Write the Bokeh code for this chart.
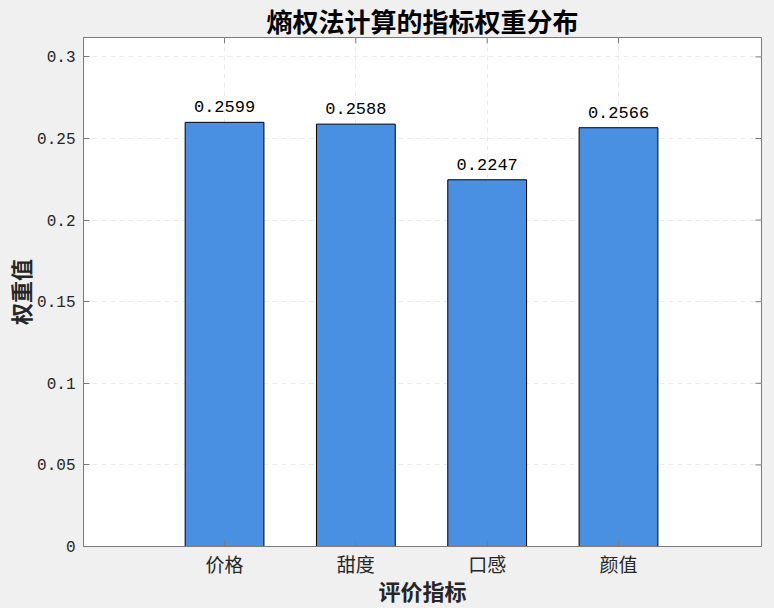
import math
from bokeh.plotting import figure
from bokeh.models import ColumnDataSource, FixedTicker, Range1d
from bokeh.core.properties import value
from bokeh.embed import file_html
from bokeh.resources import INLINE
from jinja2 import Template

categories = ["价格", "甜度", "口感", "颜值"]
weights = [0.2599, 0.2588, 0.2247, 0.2566]
value_labels = ["0.2599", "0.2588", "0.2247", "0.2566"]
y_ticks = [0, 0.05, 0.1, 0.15, 0.2, 0.25, 0.3]
y_tick_labels = ["0", "0.05", "0.1", "0.15", "0.2", "0.25", "0.3"]
title_text = "熵权法计算的指标权重分布"
x_label = "评价指标"
y_label = "权重值"

xs = [i + 1 for i in range(len(categories))]
X0, X1 = -0.074, 5.089
Y0, Y1 = 0, max(weights) * 1.2
src = ColumnDataSource(dict(x=xs, top=weights, lab=value_labels))

CJK = "Noto Sans CJK SC"
MONO = "Liberation Mono"
AX = "#7a7a7a"
TXT = "#262626"

p = figure(width=774, height=608, output_backend="svg", toolbar_location=None,
           x_range=Range1d(X0, X1), y_range=Range1d(Y0, Y1),
           background_fill_color="white", border_fill_color="#f0f0f0",
           min_border_left=83, min_border_right=13, min_border_top=37, min_border_bottom=62)

p.vbar(x="x", top="top", width=0.6, source=src, fill_color="#4A90E2", line_color="black", line_width=1)
p.text(x="x", y="top", text="lab", source=src, text_align="center", text_baseline="bottom",
       y_offset=-10, text_font=value(MONO), text_font_size="17px", text_color="black")

# inside ticks on the right and top edges (box)
p.ray(x=[X1] * len(y_ticks), y=y_ticks, length=6, length_units="screen", angle=math.pi,
      line_color=AX, line_width=1)
p.ray(x=xs, y=[Y1] * len(xs), length=6, length_units="screen", angle=-math.pi / 2,
      line_color=AX, line_width=1)

p.title.text = title_text
p.title.text_font = CJK
p.title.text_font_size = "26px"
p.title.text_font_style = "bold"
p.title.text_color = "black"
p.title.align = "center"
p.title.offset = 0
p.title.standoff = -2

xa = p.xaxis[0]
ya = p.yaxis[0]
xa.ticker = FixedTicker(ticks=xs)
xa.major_label_overrides = {x: c for x, c in zip(xs, categories)}
ya.ticker = FixedTicker(ticks=y_ticks)
ya.major_label_overrides = {t: l for t, l in zip(y_ticks, y_tick_labels)}
xa.axis_label = x_label
ya.axis_label = y_label
for ax in (xa, ya):
    ax.axis_line_color = AX
    ax.major_tick_line_color = AX
    ax.major_tick_in = 6
    ax.major_tick_out = 0
    ax.minor_tick_line_color = None
    ax.major_label_text_color = TXT
    ax.major_label_standoff = 8
    ax.axis_label_text_font = CJK
    ax.axis_label_text_font_size = "22px"
    ax.axis_label_text_font_style = "bold"
    ax.axis_label_text_color = TXT
xa.major_label_text_font = CJK
xa.major_label_text_font_size = "19px"
xa.major_label_standoff = 3
xa.axis_label_standoff = -6
ya.major_label_text_font = MONO
ya.major_label_text_font_size = "16px"
ya.axis_label_standoff = -2

p.outline_line_color = AX
p.xgrid.ticker = FixedTicker(ticks=xs)
p.ygrid.ticker = FixedTicker(ticks=y_ticks)
for g in (p.xgrid[0], p.ygrid[0]):
    g.grid_line_color = "#ebebeb"
    g.grid_line_dash = "5 4"
    g.grid_line_width = 1

tmpl = Template("""{% extends base %}
{% block postamble %}<style>body{background:#f0f0f0;}</style>{% endblock %}""")

open("out.html", "w").write(file_html(p, INLINE, template=tmpl))
